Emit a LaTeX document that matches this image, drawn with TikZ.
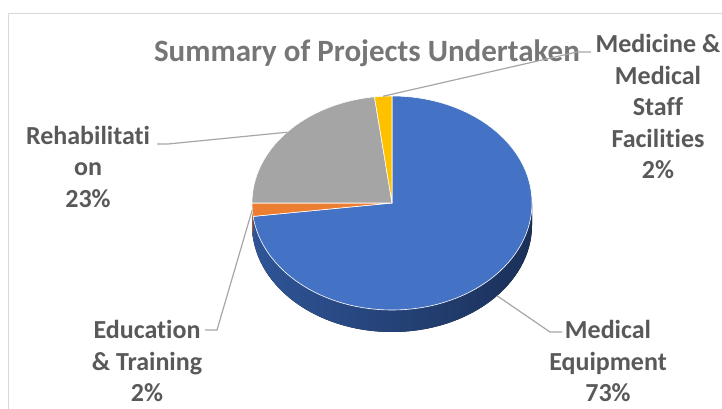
\documentclass[tikz,border=0pt]{standalone}
\usepackage{fontspec}
\setmainfont[Ligatures={NoCommon}]{Carlito}
\usepackage{tikz}
\usetikzlibrary{positioning}
\definecolor{lblgray}{HTML}{595959}
\definecolor{ttlgray}{HTML}{767676}
\definecolor{leadgray}{HTML}{A6A6A6}
\definecolor{frmgray}{HTML}{D9D9D9}
\definecolor{pieblue}{HTML}{4472C4}
\definecolor{pieorange}{HTML}{ED7D31}
\definecolor{piegray}{HTML}{A5A5A5}
\definecolor{pieyellow}{HTML}{FFC000}
\definecolor{sideblue}{HTML}{2F5597}
\definecolor{sidedark}{HTML}{1B3059}
\tikzset{
  lbl/.style={align=center, text=lblgray, inner sep=0pt,
    font=\fontsize{26}{31.5}\selectfont\bfseries},
  leader/.style={draw=leadgray, line width=1.2pt},
  slice/.style={draw=white, line width=0.6pt, line join=round},
}

\begin{document}
\begin{tikzpicture}[x=1pt,y=1pt]
\useasboundingbox (0,0) rectangle (722,409);
\draw [frmgray, line width=1.8pt] (722,395.5) -- (8.5,395.5) -- (8.5,0);
%%%%%%%%%%%%%%%%
\node[anchor=base, text=ttlgray, inner sep=0pt, font=\fontsize{31}{34}\selectfont\bfseries] (title) at (367,347) {Summary of Projects Undertaken};
%%%%%%%%%%%%%%%%
\coordinate (c) at (392,206);
\fill [left color=sideblue, right color=sidedark] ([shift={(180:140 and 107)}]c) arc[start angle=180, end angle=360, x radius=140, y radius=107] -- ++(0,-22) arc[start angle=360, end angle=180, x radius=140, y radius=107] -- cycle;
\fill [pieorange!70!black] ([shift={(180:140 and 107)}]c) arc[start angle=180, end angle=187.2, x radius=140, y radius=107] -- ++(0,-22) arc[start angle=187.2, end angle=180, x radius=140, y radius=107] -- cycle;
%%%%%%%%%%%%%%%%
\filldraw [slice, fill=pieblue] (c) -- ([shift={(90:140 and 107)}]c) arc[start angle=90, end angle=-172.8, x radius=140, y radius=107] -- cycle;
\filldraw [slice, fill=pieorange] (c) -- ([shift={(180:140 and 107)}]c) arc[start angle=180, end angle=187.2, x radius=140, y radius=107] -- cycle;
\filldraw [slice, fill=piegray] (c) -- ([shift={(97.2:140 and 107)}]c) arc[start angle=97.2, end angle=180, x radius=140, y radius=107] -- cycle;
\filldraw [slice, fill=pieyellow] (c) -- ([shift={(90:140 and 107)}]c) arc[start angle=90, end angle=97.2, x radius=140, y radius=107] -- cycle;
%%%%%%%%%%%%%%%%
\node[lbl] (medicine) at (658,302.5) {Medicine \&\\Medical\\Staff\\Facilities\\2\%};
\node[lbl] (rehab) at (88,242.5) {Rehabilitati\\on\\23\%};
\node[lbl] (edu) at (147,48) {Education\\\& Training\\2\%};
\node[lbl] (equip) at (608,48) {Medical\\Equipment\\73\%};
%%%%%%%%%%%%%%%%
\coordinate (yel) at ([shift={(93.6:140 and 107)}]c);
\coordinate (gry) at ([shift={(138.6:140 and 107)}]c);
\coordinate (org) at ([shift={(183.6:140 and 107)}]c);
\coordinate (blu) at ([shift={(-41.4:140 and 107)}]c);
\coordinate (blu') at ([yshift=-22]blu);
\draw [leader] (yel) -- (577,357) -- (591,357);
\draw [leader] (gry) -- (168,265) -- (157,265);
\draw [leader] (org) -- (217,79) -- (205,79);
\draw [leader] (blu') -- (550,77) -- (562,77);
\end{tikzpicture}
\end{document}
